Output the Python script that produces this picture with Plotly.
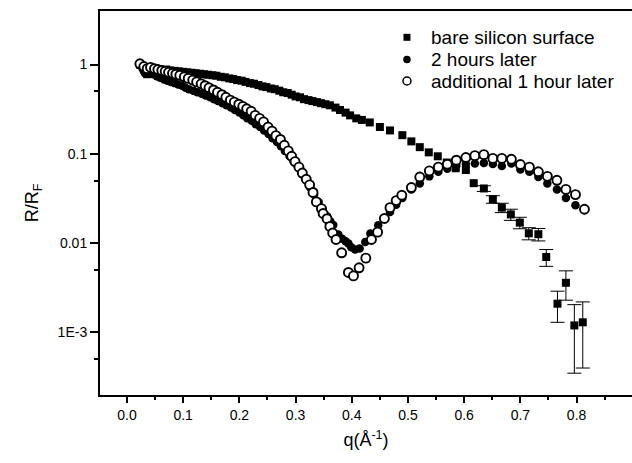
import plotly.graph_objects as go

# ---- data: normalized reflectivity R/R_F versus momentum transfer q (1/Å) ----

# bare silicon surface
q_bare = [0.023, 0.030, 0.036, 0.042, 0.049, 0.055, 0.063, 0.070, 0.077, 0.085,
          0.092, 0.100, 0.107, 0.115, 0.122, 0.130, 0.137, 0.144, 0.152, 0.159,
          0.167, 0.174, 0.182, 0.189, 0.196, 0.204, 0.211, 0.219, 0.226, 0.234,
          0.241, 0.248, 0.256, 0.263, 0.271, 0.278, 0.286, 0.293, 0.300, 0.308,
          0.315, 0.323, 0.330, 0.338, 0.345, 0.353, 0.361, 0.371, 0.379, 0.389,
          0.397, 0.408, 0.418, 0.432, 0.450, 0.468, 0.490, 0.506, 0.521, 0.537,
          0.553, 0.569, 0.585, 0.603, 0.617, 0.635, 0.651, 0.667, 0.683, 0.699,
          0.715, 0.732, 0.746, 0.766, 0.781, 0.796, 0.811]
r_bare = [1.00, 0.88, 0.78, 0.86, 0.90, 0.88, 0.86, 0.88, 0.86, 0.85,
          0.84, 0.83, 0.82, 0.81, 0.80, 0.79, 0.78, 0.77, 0.76, 0.75,
          0.73, 0.72, 0.70, 0.69, 0.67, 0.66, 0.64, 0.62, 0.61, 0.59,
          0.57, 0.56, 0.54, 0.53, 0.51, 0.49, 0.48, 0.46, 0.44, 0.43,
          0.41, 0.40, 0.39, 0.38, 0.37, 0.36, 0.35, 0.33, 0.31, 0.29,
          0.27, 0.25, 0.24, 0.225, 0.20, 0.183, 0.162, 0.138, 0.119, 0.104,
          0.094, 0.080, 0.069, 0.066, 0.047, 0.041, 0.031, 0.025, 0.021, 0.017,
          0.0129, 0.0126, 0.0070, 0.0021, 0.0036, 0.0012, 0.0013]
# error bars exist only on the high-q tail (from q = 0.635 on)
err_start = 65
err_bare = [0.003, 0.003, 0.003, 0.003, 0.0025, 0.002, 0.002, 0.0015,
            0.0008, 0.0013, 0.00085, 0.0009]

# 2 hours later
q_2h = [0.023, 0.028, 0.032, 0.036, 0.041, 0.047, 0.053, 0.059, 0.066, 0.072,
        0.078, 0.085, 0.091, 0.098, 0.104, 0.110, 0.118, 0.125, 0.133, 0.140,
        0.148, 0.155, 0.162, 0.170, 0.177, 0.185, 0.192, 0.200, 0.207, 0.214,
        0.222, 0.229, 0.237, 0.244, 0.252, 0.259, 0.267, 0.274, 0.281, 0.289,
        0.296, 0.304, 0.311, 0.319, 0.326, 0.333, 0.341, 0.348, 0.356, 0.362,
        0.367, 0.376, 0.383, 0.389, 0.394, 0.399, 0.406, 0.414, 0.424, 0.433,
        0.447, 0.458, 0.468, 0.479, 0.490, 0.506, 0.521, 0.538, 0.554, 0.570,
        0.586, 0.603, 0.619, 0.635, 0.651, 0.667, 0.684, 0.700, 0.716, 0.732,
        0.748, 0.765, 0.781, 0.798]
r_2h = [0.98, 0.90, 0.80, 0.86, 0.80, 0.78, 0.74, 0.71, 0.68, 0.66,
        0.64, 0.62, 0.60, 0.58, 0.55, 0.53, 0.51, 0.49, 0.47, 0.45,
        0.43, 0.41, 0.39, 0.37, 0.35, 0.33, 0.31, 0.29, 0.27, 0.25,
        0.235, 0.215, 0.20, 0.183, 0.167, 0.15, 0.136, 0.122, 0.108, 0.095,
        0.083, 0.072, 0.061, 0.051, 0.042, 0.035, 0.029, 0.024, 0.020, 0.0175,
        0.0160, 0.0125, 0.0112, 0.0105, 0.0099, 0.0090, 0.0085, 0.0087, 0.0103, 0.0128,
        0.0159, 0.019, 0.0224, 0.027, 0.032, 0.040, 0.0465, 0.056, 0.063, 0.068,
        0.074, 0.077, 0.078, 0.079, 0.077, 0.073, 0.078, 0.067, 0.063, 0.055,
        0.0465, 0.040, 0.032, 0.0266]

# additional 1 hour later
q_3h = [0.023, 0.030, 0.036, 0.042, 0.049, 0.055, 0.062, 0.068, 0.074, 0.081,
        0.087, 0.094, 0.102, 0.109, 0.117, 0.124, 0.132, 0.139, 0.146, 0.154,
        0.161, 0.169, 0.176, 0.184, 0.191, 0.199, 0.206, 0.213, 0.221, 0.228,
        0.236, 0.243, 0.251, 0.258, 0.265, 0.273, 0.280, 0.287, 0.293, 0.299,
        0.306, 0.312, 0.319, 0.325, 0.331, 0.337, 0.346, 0.349, 0.356, 0.361,
        0.366, 0.372, 0.382, 0.394, 0.403, 0.413, 0.425, 0.435, 0.446, 0.458,
        0.468, 0.479, 0.489, 0.506, 0.521, 0.538, 0.554, 0.570, 0.586, 0.603,
        0.619, 0.635, 0.651, 0.667, 0.684, 0.700, 0.716, 0.732, 0.748, 0.765,
        0.781, 0.798, 0.814]
r_3h = [1.02, 0.95, 0.90, 0.93, 0.90, 0.88, 0.86, 0.84, 0.82, 0.80,
        0.78, 0.76, 0.73, 0.70, 0.67, 0.64, 0.61, 0.58, 0.55, 0.52,
        0.49, 0.46, 0.43, 0.40, 0.38, 0.36, 0.34, 0.32, 0.30, 0.27,
        0.25, 0.228, 0.20, 0.18, 0.16, 0.145, 0.125, 0.108, 0.094, 0.082,
        0.071, 0.061, 0.052, 0.045, 0.037, 0.029, 0.0244, 0.0215, 0.0188, 0.0154,
        0.013, 0.011, 0.0078, 0.0047, 0.0043, 0.0053, 0.0068, 0.011, 0.0133, 0.0189,
        0.025, 0.030, 0.0344, 0.042, 0.055, 0.0645, 0.071, 0.0765, 0.085, 0.091,
        0.0955, 0.098, 0.089, 0.089, 0.087, 0.076, 0.071, 0.063, 0.056, 0.0506,
        0.040, 0.035, 0.024]

series_names = ["bare silicon surface", "2 hours later", "additional 1 hour later"]

# axis ticks
x_ticks = [0.0, 0.1, 0.2, 0.3, 0.4, 0.5, 0.6, 0.7, 0.8]
x_minor = [0.05, 0.15, 0.25, 0.35, 0.45, 0.55, 0.65, 0.75, 0.85]
y_ticks = [1e-3, 1e-2, 1e-1, 1]
y_ticktext = ["1E-3", "0.01", "0.1", "1"]
y_minor = [5e-4, 5e-3, 5e-2, 5e-1]

FONT = "Arial, Liberation Sans, sans-serif"

SQUARE = dict(symbol="square", size=8, color="black")
DOT = dict(symbol="circle", size=8.5, color="black")
RING = dict(symbol="circle", size=9, color="white",
            line=dict(color="black", width=1.9))

fig = go.Figure()

fig.add_trace(go.Scatter(
    x=q_bare[:err_start], y=r_bare[:err_start], mode="markers",
    name=series_names[0], marker=SQUARE,
))
fig.add_trace(go.Scatter(
    x=q_bare[err_start:], y=r_bare[err_start:], mode="markers",
    name=series_names[0], marker=SQUARE,
    error_y=dict(type="data", array=err_bare, color="black",
                 thickness=1, width=7),
))
fig.add_trace(go.Scatter(
    x=q_2h, y=r_2h, mode="markers", name=series_names[1], marker=DOT,
))
fig.add_trace(go.Scatter(
    x=q_3h, y=r_3h, mode="markers", name=series_names[2], marker=RING,
))

# key in the upper right: symbol shapes (pixel-sized) and text labels
key_x = 0.577          # symbol centre, fraction of plot width
key_text_x = 0.618     # label start
key_rows = [0.9315, 0.8737, 0.8177]
key_shapes = []
for row, (kind, half, filled) in zip(key_rows, [("rect", 3.5, True),
                                                ("circle", 3.8, True),
                                                ("circle", 4.0, False)]):
    shp = dict(type=kind, xref="paper", yref="paper",
               xsizemode="pixel", ysizemode="pixel",
               xanchor=key_x, yanchor=row,
               x0=-half, x1=half, y0=-half, y1=half)
    if filled:
        shp.update(fillcolor="black", line=dict(color="black", width=0))
    else:
        shp.update(fillcolor="white", line=dict(color="black", width=1.5))
    key_shapes.append(shp)

key_labels = [
    dict(text=name, xref="paper", yref="paper", x=key_text_x, y=row,
         xanchor="left", yanchor="middle", showarrow=False,
         font=dict(family=FONT, size=19, color="black"))
    for name, row in zip(series_names, key_rows)
]

fig.update_layout(
    width=632, height=463,
    margin=dict(l=100, r=0, t=11, b=68),
    plot_bgcolor="white", paper_bgcolor="white",
    font=dict(family=FONT, size=14, color="black"),
    showlegend=False,
    shapes=key_shapes,
    annotations=key_labels,
)

fig.update_xaxes(
    range=[-0.048, 0.8986],
    tickmode="array", tickvals=x_ticks,
    ticktext=[f"{v:.1f}" for v in x_ticks],
    ticks="outside", ticklen=6, tickwidth=1.5, tickcolor="black",
    minor=dict(tickmode="array", tickvals=x_minor, ticks="outside",
               ticklen=3, tickwidth=1.5, tickcolor="black"),
    showline=True, linewidth=2, linecolor="black", mirror=True,
    showgrid=False, zeroline=False,
    tickfont=dict(size=14),
    title=dict(text="q(Å<sup>-1</sup>)", font=dict(size=18), standoff=12),
)
fig.update_yaxes(
    type="log", range=[-3.70, 0.60],
    tickmode="array", tickvals=y_ticks, ticktext=y_ticktext,
    ticks="outside", ticklen=8, tickwidth=1.5, tickcolor="black",
    minor=dict(tickmode="array", tickvals=y_minor, ticks="outside",
               ticklen=4, tickwidth=1.5, tickcolor="black"),
    showline=True, linewidth=2, linecolor="black",
    showgrid=False, zeroline=False,
    tickfont=dict(size=14),
    title=dict(text="R/R<sub>F</sub>", font=dict(size=18), standoff=14),
)

fig.write_html("out.html")
